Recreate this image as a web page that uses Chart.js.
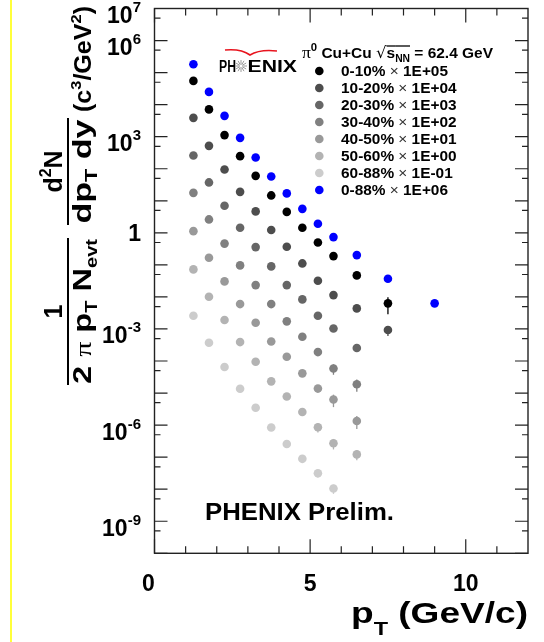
<!DOCTYPE html>
<html>
<head>
<meta charset="utf-8">
<script src="https://cdn.jsdelivr.net/npm/chart.js@4.4.1/dist/chart.umd.min.js"></script>
<style>
  html, body { margin: 0; padding: 0; background: #fff; }
  #wrap { width: 544px; height: 642px; }
</style>
</head>
<body>
<div id="wrap"><canvas id="c" width="544" height="642"></canvas></div>
<script>
// pT bin centres (GeV/c)
const ptBins = [1.25, 1.75, 2.25, 2.75, 3.25, 3.75, 4.25, 4.75, 5.25, 5.75, 6.5, 7.5, 9.0];

// invariant yields, already multiplied by the legend factor
const cent0010 = [5.5e4, 7.1e3, 1.12e3, 247, 60, 14.7, 4.5, 1.44, 0.50, 0.188, 0.047, 0.0063];
const cent1020 = [3.87e3, 518, 95, 19.0, 4.66, 1.22, 0.366, 0.111, 0.0318, 0.0114, 0.00439, 0.000925];
const cent2030 = [260, 37.4, 6.97, 1.44, 0.359, 0.0897, 0.0234, 0.00838, 0.00258, 0.00103, 0.000254];
const cent3040 = [17.7, 2.62, 0.461, 0.0964, 0.0234, 0.00598, 0.00173, 0.000571, 0.00019, 5.82e-5, 1.88e-5];
const cent4050 = [1.13, 0.166, 0.0305, 0.00598, 0.00156, 0.000405, 0.000136, 4.12e-5, 1.38e-5, 6.28e-6, 1.34e-6];
const cent5060 = [0.0723, 0.0101, 0.0019, 0.00039, 9.48e-5, 2.32e-5, 7.78e-6, 2.56e-6, 8.59e-7, 2.72e-7, 1.22e-7];
const cent6088 = [0.00258, 0.000371, 6.48e-5, 1.36e-5, 3.48e-6, 8.4e-7, 2.57e-7, 8.87e-8, 3.13e-8, 1.05e-8];
const minBias  = [1.83e5, 2.5e4, 4.47e3, 920, 225, 57.5, 17.0, 5.6, 1.91, 0.735, 0.202, 0.0368, 0.0063];

// relative errors (only the high pT ones stick out of the markers)
const err0010 = [0.1, 0.1, 0.1, 0.1, 0.1, 0.1, 0.1, 0.1, 0.1, 0.1, 0.15, 0.54];
const err1020 = [0.1, 0.1, 0.1, 0.1, 0.1, 0.1, 0.1, 0.1, 0.1, 0.1, 0.15, 0.35];
const err2030 = [0.1, 0.1, 0.1, 0.1, 0.1, 0.1, 0.1, 0.1, 0.1, 0.2, 0.15];
const err3040 = [0.1, 0.1, 0.1, 0.1, 0.1, 0.1, 0.1, 0.1, 0.1, 0.36, 0.42];
const err4050 = [0.1, 0.1, 0.1, 0.1, 0.1, 0.1, 0.1, 0.1, 0.2, 0.42, 0.44];
const err5060 = [0.1, 0.1, 0.1, 0.1, 0.1, 0.1, 0.1, 0.1, 0.32, 0.36, 0.34];
const err6088 = [0.1, 0.1, 0.1, 0.1, 0.1, 0.1, 0.1, 0.2, 0.25, 0.32];
const errMB   = [0.1, 0.1, 0.1, 0.1, 0.1, 0.1, 0.1, 0.1, 0.1, 0.1, 0.1, 0.12, 0.15];

const seriesNames  = ['0-10%', '10-20%', '20-30%', '30-40%', '40-50%', '50-60%', '60-88%', '0-88%'];
const seriesFactor = ['1E+05', '1E+04', '1E+03', '1E+02', '1E+01', '1E+00', '1E-01', '1E+06'];
const seriesColors = ['#000000', '#4d4d4d', '#666666', '#808080', '#999999', '#b3b3b3', '#cccccc', '#0000ff'];
const seriesValues = [cent0010, cent1020, cent2030, cent3040, cent4050, cent5060, cent6088, minBias];
const seriesErrors = [err0010, err1020, err2030, err3040, err4050, err5060, err6088, errMB];

// axis ticks
const xMajor = [0, 5, 10];
const xMinor = [1, 2, 3, 4, 6, 7, 8, 9, 11];
const yLabelExp = [7, 6, 3, 0, -3, -6, -9];

const SANS = '"Liberation Sans", Arial, Helvetica, sans-serif';
const SERIF = '"Liberation Serif", "DejaVu Serif", serif';

function fontOf(s) {
    return (s.b === false ? '' : 'bold ') + s.size + 'px ' + (s.fam || SANS);
}
function runWidth(ctx, segs) {
    let w = 0;
    segs.forEach(s => { ctx.font = fontOf(s); w += ctx.measureText(s.t).width; });
    return w;
}
// draw a row of text pieces (sub/superscripts via dy), optionally stretched to a width
function drawRich(ctx, segs, x, y, opt) {
    opt = opt || {};
    const w0 = runWidth(ctx, segs);
    const sx = opt.width ? opt.width / w0 : (opt.sx || 1);
    const w = w0 * sx;
    let x0 = x;
    if (opt.align === 'right') x0 = x - w;
    else if (opt.align === 'center') x0 = x - w / 2;
    ctx.save();
    ctx.translate(x0, y);
    ctx.scale(sx, 1);
    ctx.fillStyle = opt.color || '#000';
    ctx.strokeStyle = ctx.fillStyle;
    ctx.textAlign = 'left';
    ctx.textBaseline = 'alphabetic';
    let cx = 0;
    segs.forEach(s => {
        ctx.font = fontOf(s);
        const sw = ctx.measureText(s.t).width;
        if (s.color) ctx.fillStyle = s.color;
        ctx.fillText(s.t, cx, s.dy || 0);
        ctx.fillStyle = opt.color || '#000';
        if (s.over !== undefined) {
            ctx.lineWidth = 1.3;
            ctx.beginPath();
            ctx.moveTo(cx, s.over);
            ctx.lineTo(cx + sw, s.over);
            ctx.stroke();
        }
        cx += sw;
    });
    ctx.restore();
    return w;
}

const errorBars = {
    id: 'errorBars',
    beforeDatasetsDraw(chart) {
        const ctx = chart.ctx, xs = chart.scales.x, ys = chart.scales.y;
        ctx.save();
        ctx.lineWidth = 1.3;
        seriesValues.forEach((vals, i) => {
            ctx.strokeStyle = seriesColors[i];
            vals.forEach((v, j) => {
                const e = seriesErrors[i][j];
                const px = xs.getPixelForValue(ptBins[j]);
                ctx.beginPath();
                ctx.moveTo(px, ys.getPixelForValue(v * (1 - e)));
                ctx.lineTo(px, ys.getPixelForValue(v * (1 + e)));
                ctx.stroke();
            });
        });
        ctx.restore();
    }
};

const rootFrame = {
    id: 'rootFrame',
    afterDraw(chart) {
        const ctx = chart.ctx, a = chart.chartArea;
        const xs = chart.scales.x, ys = chart.scales.y;
        ctx.save();

        // yellow strip on the left edge
        ctx.fillStyle = '#ffff3a';
        ctx.fillRect(10, 0, 2, 642);

        // frame
        ctx.strokeStyle = '#222';
        ctx.lineWidth = 1.4;
        ctx.strokeRect(a.left, a.top, a.right - a.left, a.bottom - a.top);

        // x ticks, bottom and top
        ctx.lineWidth = 1.2;
        const xTick = (v, len) => {
            const px = xs.getPixelForValue(v);
            ctx.beginPath();
            ctx.moveTo(px, a.bottom); ctx.lineTo(px, a.bottom - len);
            ctx.moveTo(px, a.top); ctx.lineTo(px, a.top + len);
            ctx.stroke();
        };
        xMajor.forEach(v => xTick(v, 14));
        xMinor.forEach(v => xTick(v, 7));

        // y ticks, left and right: decades long, 5x short
        const yTick = (v, len) => {
            const py = ys.getPixelForValue(v);
            if (py < a.top - 0.5 || py > a.bottom + 0.5) return;
            ctx.beginPath();
            ctx.moveTo(a.left, py); ctx.lineTo(a.left + len, py);
            ctx.moveTo(a.right, py); ctx.lineTo(a.right - len, py);
            ctx.stroke();
        };
        for (let n = -10; n <= 7; n++) {
            yTick(Math.pow(10, n), 13);
            if (n < 7) yTick(5 * Math.pow(10, n), 6);
        }

        // y tick labels
        yLabelExp.forEach(n => {
            const py = ys.getPixelForValue(Math.pow(10, n));
            if (n === 0) {
                drawRich(ctx, [{ t: '1', size: 23 }], 141, py + 8.5, { align: 'right' });
            } else {
                drawRich(ctx, [{ t: '10', size: 23 }, { t: String(n), size: 15, dy: -11 }],
                    141, py + 14.5, { align: 'right' });
            }
        });

        // x tick labels
        xMajor.forEach(v => {
            const px = xs.getPixelForValue(v) - (v === 0 ? 6 : 0);
            drawRich(ctx, [{ t: String(v), size: 23 }], px, 590.5, { align: 'center' });
        });

        // x title
        drawRich(ctx, [{ t: 'p', size: 30 }, { t: 'T', size: 19, dy: 12 }, { t: ' (GeV/c)', size: 30 }],
            528, 623, { align: 'right', width: 177 });

        // y title (rotated, reads bottom to top)
        ctx.save();
        ctx.translate(0, 385);
        ctx.rotate(-Math.PI / 2);
        ctx.fillStyle = '#000';
        drawRich(ctx, [{ t: '1', size: 25 }], 73.5, 62, { align: 'center' });
        ctx.fillRect(0, 67, 147, 2);
        drawRich(ctx, [{ t: '2 ', size: 26 }, { t: '\u03c0', b: false, fam: SERIF, size: 24 }, { t: ' p', size: 26 },
            { t: 'T', size: 16, dy: 6 }, { t: ' N', size: 26 }, { t: 'evt', size: 16, dy: 6 }],
            73.5, 91, { align: 'center', width: 145 });
        drawRich(ctx, [{ t: 'd', size: 25 }, { t: '2', size: 16, dy: -11 }, { t: 'N', size: 25 }], 213.5, 62, { align: 'center' });
        ctx.fillRect(160, 67, 107, 2);
        drawRich(ctx, [{ t: 'dp', size: 25 }, { t: 'T', size: 16, dy: 6 }, { t: ' dy', size: 25 }],
            213.5, 91, { align: 'center', width: 104 });
        drawRich(ctx, [{ t: '(c', size: 23 }, { t: '3', size: 15, dy: -10 }, { t: '/GeV', size: 23 },
            { t: '2', size: 15, dy: -10 }, { t: ')', size: 23 }], 273, 91, { width: 106 });
        ctx.restore();

        // legend header
        drawRich(ctx, [{ t: '\u03c0', b: false, fam: SERIF, size: 17 }, { t: '0', size: 11, dy: -7 },
            { t: ' Cu+Cu ', size: 15 }, { t: '\u221a', b: false, size: 16, fam: 'DejaVu Sans' },
            { t: 's', size: 15, over: -11.5 }, { t: 'NN', size: 10, dy: 4, over: -11.5 },
            { t: ' = 62.4 GeV', size: 15 }], 302, 57.5, { width: 191 });

        // legend rows
        const rowSegs = i => [{ t: seriesNames[i], size: 14 }, { t: ' \u00d7 ', b: false, size: 14, color: '#333' },
            { t: seriesFactor[i], size: 14 }];
        const legSx = 107 / runWidth(ctx, rowSegs(0));
        seriesNames.forEach((name, i) => {
            const ry = 71 + i * 17;
            ctx.fillStyle = seriesColors[i];
            ctx.beginPath();
            ctx.arc(319.3, ry, 4.3, 0, Math.PI * 2);
            ctx.fill();
            drawRich(ctx, rowSegs(i), 341, ry + 5, { sx: legSx });
        });

        // PHENIX logo
        drawRich(ctx, [{ t: 'PH', size: 16 }], 219, 72, { width: 17 });
        drawRich(ctx, [{ t: 'ENIX', size: 16 }], 247.5, 72, { width: 49.5 });
        ctx.strokeStyle = '#9a9a9a';
        ctx.lineWidth = 1;
        for (let k = 0; k < 12; k++) {
            const ang = k * Math.PI / 6;
            ctx.beginPath();
            ctx.moveTo(241 + Math.cos(ang) * 1.5, 66 + Math.sin(ang) * 1.5);
            ctx.lineTo(241 + Math.cos(ang) * 6, 66 + Math.sin(ang) * 6);
            ctx.stroke();
        }
        ctx.strokeStyle = '#e8141e';
        ctx.lineWidth = 1.6;
        ctx.beginPath();
        ctx.moveTo(225, 50);
        ctx.quadraticCurveTo(241, 48.5, 250, 55);
        ctx.quadraticCurveTo(260, 49, 277, 51);
        ctx.stroke();

        // preliminary tag
        drawRich(ctx, [{ t: 'PHENIX Prelim.', size: 23 }], 205, 519.5, { width: 189 });

        ctx.restore();
    }
};

const datasets = seriesValues.map((vals, i) => ({
    label: seriesNames[i],
    data: vals.map((v, j) => ({ x: ptBins[j], y: v })),
    backgroundColor: seriesColors[i],
    borderColor: seriesColors[i],
    pointRadius: 4.3,
    pointBorderWidth: 0,
    pointHoverRadius: 4.3
}));

new Chart(document.getElementById('c'), {
    type: 'scatter',
    data: { datasets: datasets },
    options: {
        responsive: false,
        animation: false,
        layout: { padding: { left: 154.5, top: 8.5, right: 16, bottom: 88.7 } },
        scales: {
            x: { type: 'linear', min: 0, max: 12, display: false },
            y: { type: 'logarithmic', min: 1e-10, max: 1e7, display: false }
        },
        plugins: { legend: { display: false }, tooltip: { enabled: false } }
    },
    plugins: [errorBars, rootFrame]
});
</script>
</body>
</html>
